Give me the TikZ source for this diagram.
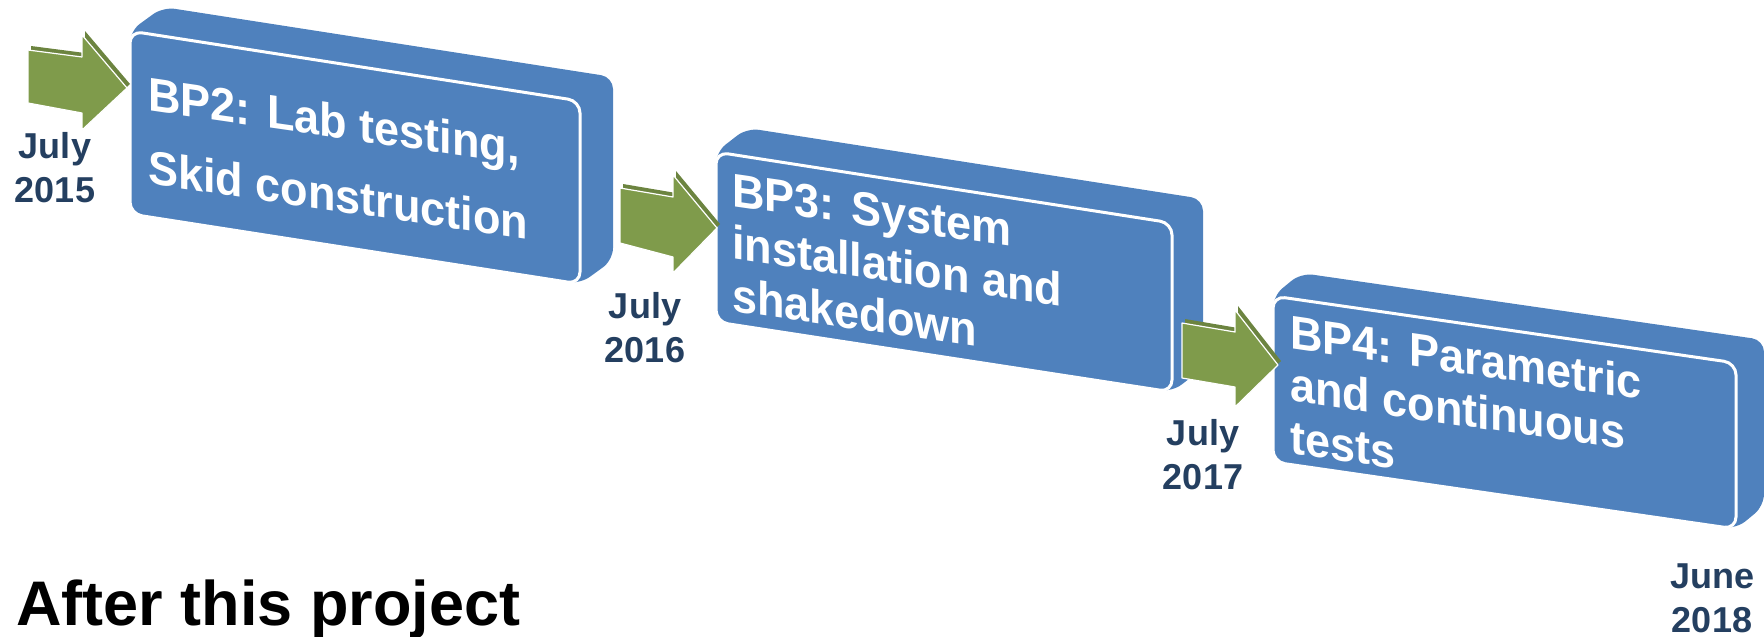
\documentclass[tikz,border=0pt]{standalone}
\usepackage{fontspec}
\setmainfont{Liberation Sans}
\usetikzlibrary{positioning}

\definecolor{boxblue}{RGB}{79,129,189}
\definecolor{arrowgreen}{RGB}{127,155,75}
\definecolor{datenavy}{RGB}{36,63,96}

\tikzset{
    boxbody/.style={fill=boxblue, rounded corners=12pt},
    boxface/.style={fill=boxblue, draw=white, line width=3pt, rounded corners=12pt},
    arrowbody/.style={fill=arrowgreen!85!black},
    arrowface/.style={fill=arrowgreen, draw=white, line width=1.2pt, line join=round},
    boxtext/.style={text=white, font=\fontsize{45}{50}\selectfont\bfseries, align=left, inner sep=0pt, anchor=north west, transform shape},
    datelabel/.style={text=datenavy, font=\fontsize{36}{44}\selectfont\bfseries, align=center, inner sep=0pt, anchor=north}
}

\begin{document}
\begin{tikzpicture}[x=1pt, y=-1pt]
    \useasboundingbox (0,0) rectangle (1764,637);

    % BP2 block
    \fill[boxbody] (130,31) -- (163,7) -- (613,77) -- (613,260) -- (580,284) -- (130,214) -- cycle;
    \filldraw[boxface] (130,31) -- (580,101) -- (580,284) -- (130,214) -- cycle;
    \begin{scope}[shift={(148,76)}, yslant=-0.145, yscale=1.05]
        \node[boxtext, font=\fontsize{45}{70}\selectfont\bfseries] (bp2) at (0,0) {BP2: Lab testing,\\Skid construction};
    \end{scope}

    % BP3 block
    \fill[boxbody] (716,152) -- (747,128) -- (1203,199) -- (1203,368) -- (1172,392) -- (716,322) -- cycle;
    \filldraw[boxface] (716,152) -- (1172,223) -- (1172,392) -- (716,322) -- cycle;
    \begin{scope}[shift={(732,173)}, yslant=-0.145, yscale=1.05]
        \node[boxtext] (bp3) at (0,0) {BP3: System\\installation and\\shakedown};
    \end{scope}

    % BP4 block
    \fill[boxbody] (1273,296) -- (1301,273) -- (1764,340) -- (1764,506) -- (1736,529) -- (1273,462) -- cycle;
    \filldraw[boxface] (1273,296) -- (1736,363) -- (1736,529) -- (1273,462) -- cycle;
    \begin{scope}[shift={(1290,314)}, yslant=-0.145, yscale=1.05]
        \node[boxtext] (bp4) at (0,0) {BP4: Parametric\\and continuous\\tests};
    \end{scope}

    % arrows
    \fill[arrowbody, shift={(3,-4)}] (28,50) -- (82,57) -- (82,35) -- (127,88) -- (82,130) -- (82,113) -- (28,103) -- cycle;
    \filldraw[arrowface] (28,50) -- (82,57) -- (82,35) -- (127,88) -- (82,130) -- (82,113) -- (28,103) -- cycle;
    \fill[arrowbody, shift={(3,-4)}] (620,188) -- (673,197) -- (673,175) -- (717,228) -- (673,273) -- (673,257) -- (620,243) -- cycle;
    \filldraw[arrowface] (620,188) -- (673,197) -- (673,175) -- (717,228) -- (673,273) -- (673,257) -- (620,243) -- cycle;
    \fill[arrowbody, shift={(3,-4)}] (1182,323) -- (1235,332) -- (1235,310) -- (1278,365) -- (1235,407) -- (1235,387) -- (1182,378) -- cycle;
    \filldraw[arrowface] (1182,323) -- (1235,332) -- (1235,310) -- (1278,365) -- (1235,407) -- (1235,387) -- (1182,378) -- cycle;

    % dates
    \node[datelabel] (d2015) at (55,132) {July\\2015};
    \node[datelabel] (d2016) at (645,292) {July\\2016};
    \node[datelabel] (d2017) at (1203,419) {July\\2017};
    \node[datelabel] (d2018) at (1712,564) {June\\2018};

    \node[font=\fontsize{63}{70}\selectfont\bfseries, anchor=base west, inner sep=0pt] (after) at (16,625) {After this project};
\end{tikzpicture}
\end{document}
